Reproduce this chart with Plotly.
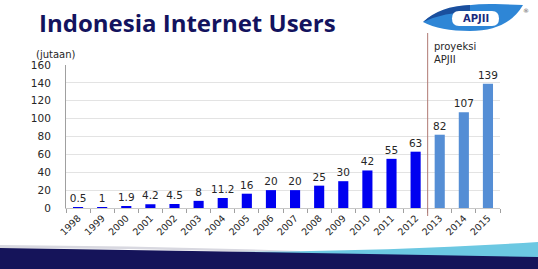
import plotly.graph_objects as go

years = [str(y) for y in range(1998, 2016)]
users = [0.5, 1, 1.9, 4.2, 4.5, 8, 11.2, 16, 20, 20, 25, 30, 42, 55, 63, 82, 107, 139]
labels = ["0.5", "1", "1.9", "4.2", "4.5", "8", "11.2", "16", "20", "20", "25", "30", "42", "55", "63", "82", "107", "139"]
projected_from = "2013"
y_ticks = [0, 20, 40, 60, 80, 100, 120, 140, 160]

W, H = 538, 269
L, R, T, B = 66, 38, 65, 61
PW, PH = W - L - R, H - T - B


def px(x):
    return (x - L) / PW


def py(y):
    return (H - B - y) / PH


def path(cmds):
    out = []
    for c in cmds:
        if isinstance(c, str):
            out.append(c)
        else:
            out.append(f"{px(c[0]):.5f},{py(c[1]):.5f}")
    return " ".join(out)


idx = years.index(projected_from)
colors = ["#0000F0"] * idx + ["#558ED5"] * (len(years) - idx)

fig = go.Figure(go.Bar(
    x=years, y=users, marker=dict(color=colors, line=dict(width=0)),
    text=labels, textposition="outside", cliponaxis=False, constraintext="none",
    textfont=dict(family="DejaVu Sans", size=10.5, color="#262626"),
))

shapes = []
# projection divider line
shapes.append(dict(type="line", xref="x", yref="paper", x0=idx - 0.5, x1=idx - 0.5,
                   y0=py(33), y1=py(216), line=dict(color="#B07A74", width=1)))
# bottom band
shapes.append(dict(type="path", xref="paper", yref="paper",
                   path=path(["M", (0, 245), "Q", (150, 246), (300, 251), "L", (300, 253), "Q", (150, 248), (0, 248), "Z"]),
                   fillcolor="#D8D8E0", line=dict(width=0), layer="above"))
shapes.append(dict(type="path", xref="paper", yref="paper",
                   path=path(["M", (230, 252), "Q", (400, 251), (538, 242), "L", (538, 258), "Q", (400, 256), (230, 252), "Z"]),
                   fillcolor="#6CC8E2", line=dict(width=0), layer="above"))
shapes.append(dict(type="path", xref="paper", yref="paper",
                   path=path(["M", (0, 248), "Q", (270, 252), (538, 257), "L", (538, 269), "L", (0, 269), "Z"]),
                   fillcolor="#15145A", line=dict(width=0), layer="above"))
# logo swoosh
shapes.append(dict(type="path", xref="paper", yref="paper",
                   path=path(["M", (423, 22), "Q", (445, 3), (495, 4), "L", (523, 5),
                              "Q", (508, 31), (470, 31), "Q", (440, 31), (423, 22), "Z"]),
                   fillcolor="#2E86D6", line=dict(width=0), layer="above"))
shapes.append(dict(type="path", xref="paper", yref="paper",
                   path=path(["M", (423, 22), "Q", (440, 6), (470, 5), "L", (470, 12),
                              "Q", (445, 12), (423, 22), "Z"]),
                   fillcolor="#1A4F9E", line=dict(width=0), layer="above"))
shapes.append(dict(type="path", xref="paper", yref="paper",
                   path=path(["M", (459, 11), "L", (492, 11), "Q", (499, 11), (499, 18.5),
                              "Q", (499, 26), (492, 26), "L", (459, 26), "Q", (452, 26), (452, 18.5),
                              "Q", (452, 11), (459, 11), "Z"]),
                   fillcolor="#FFFFFF", line=dict(width=0), layer="above"))

annotations = [
    dict(text="<b>Indonesia Internet Users</b>", xref="paper", yref="paper", x=px(37), y=py(23),
         xanchor="left", yanchor="middle", showarrow=False,
         font=dict(family="Open Sans", size=24, color="#13135E")),
    dict(text="(jutaan)", xref="paper", yref="paper", x=px(34), y=py(55),
         xanchor="left", yanchor="middle", showarrow=False,
         font=dict(family="DejaVu Sans", size=10, color="#262626")),
    dict(text="proyeksi<br>APJII", xref="paper", yref="paper", x=px(432), y=py(53),
         xanchor="left", yanchor="middle", showarrow=False, align="left",
         font=dict(family="DejaVu Sans", size=10, color="#262626")),
    dict(text="<b>APJII</b>", xref="paper", yref="paper", x=px(475.5), y=py(18.5),
         xanchor="center", yanchor="middle", showarrow=False,
         font=dict(family="DejaVu Sans", size=10, color="#1A2A7E")),
    dict(text="®", xref="paper", yref="paper", x=px(526), y=py(11),
         xanchor="center", yanchor="middle", showarrow=False,
         font=dict(family="DejaVu Sans", size=6, color="#555")),
]

fig.update_layout(
    width=W, height=H, margin=dict(l=L, r=R, t=T, b=B),
    paper_bgcolor="white", plot_bgcolor="white",
    showlegend=False, bargap=0.58,
    shapes=shapes, annotations=annotations,
    xaxis=dict(type="category", tickangle=-45, tickson="boundaries", ticks="outside",
               ticklen=4, tickcolor="#A0A0A0", showline=True, linecolor="#C8C8C8",
               tickfont=dict(family="DejaVu Sans", size=9.5, color="#262626"), showgrid=False),
    yaxis=dict(range=[0, 160], tickvals=y_ticks, showgrid=True, gridcolor="#E3E3E3",
               showline=True, linecolor="#A0A0A0", zeroline=False, ticks="",
               ticklabelstandoff=12,
               tickfont=dict(family="DejaVu Sans", size=10.5, color="#262626")),
)

fig.write_html("out.html")
